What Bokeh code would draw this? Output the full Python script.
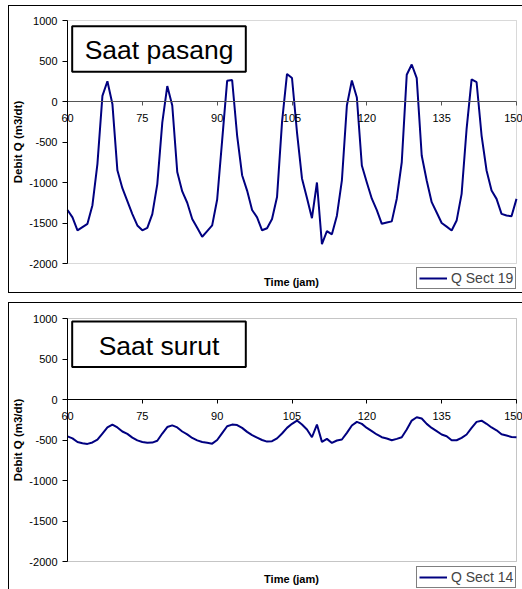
from bokeh.plotting import figure
from bokeh.layouts import column
from bokeh.models import (Legend, LegendItem, LinearAxis, FixedTicker, BoxAnnotation,
                          Label, Range1d)
from bokeh.embed import file_html
from bokeh.resources import INLINE

# ---------------- data ----------------
hours = list(range(60, 151))

q_sect19 = [
    -1340, -1430, -1590, -1550, -1510, -1280, -770, 70, 250, -30,      # 60-69
    -850, -1070, -1230, -1390, -1530, -1590, -1560, -1390, -1020, -260,  # 70-79
    190, -50, -870, -1110, -1250, -1450, -1560, -1670, -1600, -1530,   # 80-89
    -1210, -480, 255, 265, -420, -910, -1100, -1340, -1430, -1590,     # 90-99
    -1565, -1450, -1180, -255, 340, 290, -380, -950, -1190, -1440,     # 100-109
    -1000, -1760, -1600, -1640, -1410, -975, -50, 260, 50, -790,       # 110-119
    -1000, -1200, -1340, -1510, -1495, -1480, -1200, -750, 330, 457,   # 120-129
    288, -667, -976, -1243, -1370, -1500, -1545, -1593, -1470, -1140,  # 130-139
    -337, 272, 238, -420, -852, -1099, -1202, -1387, -1408, -1416,     # 140-149
    -1202,                                                             # 150
]

q_sect14 = [
    -455, -480, -525, -540, -548, -530, -495, -420, -345, -310,        # 60-69
    -345, -395, -425, -470, -505, -525, -535, -532, -510, -420,        # 70-79
    -340, -320, -345, -395, -430, -475, -505, -525, -535, -545,        # 80-89
    -500, -415, -330, -310, -315, -350, -400, -440, -470, -500,        # 90-99
    -520, -515, -480, -420, -350, -300, -260, -309, -371, -466,        # 100-109
    -309, -523, -486, -536, -506, -494, -412, -321, -276, -301,        # 110-119
    -351, -391, -432, -466, -482, -503, -486, -466, -371, -260,        # 120-129
    -219, -235, -301, -351, -391, -432, -453, -503, -503, -474,        # 130-139
    -432, -351, -276, -262, -300, -345, -380, -430, -445, -463,        # 140-149
    -466,                                                              # 150
]

x_ticks = [60, 75, 90, 105, 120, 135, 150]
x_tick_labels = ["60", "75", "90", "105", "120", "135", "150"]
y_ticks = [-2000, -1500, -1000, -500, 0, 500, 1000]
y_tick_labels = ["-2000", "-1500", "-1000", "-500", "0", "500", "1000"]

x_title = "Time (jam)"
y_title = "Debit Q (m3/dt)"

X_MIN, X_MAX = 60, 150
Y_MIN, Y_MAX = -2000, 1000

FONT = "Liberation Sans"
LINE_COLOR = "#000080"

FIG_W = 522
DATA_PX_H = 243.0                    # pixel height of the -2000..1000 band
DATA_PX_W = 449.0                    # pixel width of the 60..150 band
LEFT_PX = 67                         # pixels left of the 60 line
UNIT_PER_PX_Y = (Y_MAX - Y_MIN) / DATA_PX_H
UNIT_PER_PX_X = (X_MAX - X_MIN) / DATA_PX_W


def make_chart(series, series_label, box_text, height, top_px,
               box_top, box_bottom, text_y, title_y, zero_color, frame_color,
               legend_dy, shadow):
    # the frame covers the whole figure; both axes are drawn at fixed places
    below_px = height - top_px - DATA_PX_H
    y_low = Y_MIN - below_px * UNIT_PER_PX_Y
    y_high = Y_MAX + top_px * UNIT_PER_PX_Y
    x_low = X_MIN - LEFT_PX * UNIT_PER_PX_X
    x_high = X_MIN + (FIG_W - LEFT_PX) * UNIT_PER_PX_X
    p = figure(width=FIG_W, height=height,
               x_range=Range1d(x_low, x_high), y_range=Range1d(y_low, y_high),
               x_axis_type=None, y_axis_type=None,
               output_backend="svg", toolbar_location=None,
               min_border_left=0, min_border_right=0,
               min_border_top=0, min_border_bottom=0,
               border_fill_color=None, background_fill_color=None,
               outline_line_color=None)
    p.styles = {"box-shadow": shadow}

    # x axis drawn across the zero line
    xa = LinearAxis(ticker=FixedTicker(ticks=x_ticks), fixed_location=0,
                    bounds=(X_MIN, X_MAX),
                    major_label_overrides=dict(zip(x_ticks, x_tick_labels)),
                    major_tick_out=4, major_tick_in=0, minor_tick_line_color=None,
                    major_label_standoff=8,
                    axis_line_color=zero_color, major_tick_line_color=zero_color,
                    major_label_text_font=FONT, major_label_text_font_size="11px",
                    major_label_text_color="black")
    p.add_layout(xa, "below")

    ya = LinearAxis(ticker=FixedTicker(ticks=y_ticks), fixed_location=X_MIN,
                    bounds=(Y_MIN, Y_MAX),
                    major_label_overrides=dict(zip(y_ticks, y_tick_labels)),
                    major_tick_out=5, major_tick_in=0, minor_tick_line_color=None,
                    major_label_standoff=5, axis_line_color="black",
                    major_tick_line_color="black",
                    major_label_text_font=FONT, major_label_text_font_size="11px",
                    major_label_text_color="black",
                    axis_label=y_title, axis_label_standoff=2,
                    axis_label_text_font=FONT, axis_label_text_font_size="11.5px",
                    axis_label_text_font_style="bold", axis_label_text_color="black")
    p.add_layout(ya, "left")

    # plot-area border
    p.add_layout(BoxAnnotation(left=X_MIN, right=X_MAX, top=Y_MAX, bottom=Y_MIN,
                               fill_color=None, line_color=frame_color,
                               line_width=1, level="underlay"))

    r = p.line(hours, series, line_color=LINE_COLOR, line_width=2)

    box = BoxAnnotation(left=60.94, right=95.74, top=box_top, bottom=box_bottom,
                        fill_color="white", fill_alpha=1.0,
                        line_color="black", line_width=2, line_alpha=1.0)
    p.add_layout(box)
    p.add_layout(Label(x=78.35, y=text_y, text=box_text, text_align="center",
                       text_baseline="middle", text_font=FONT,
                       text_font_size="26.5px", text_color="black"))

    # x-axis title under the plot area
    p.add_layout(Label(x=104.9, y=title_y, text=x_title, text_align="center",
                       text_baseline="middle", text_font=FONT,
                       text_font_size="11px", text_font_style="bold",
                       text_color="black"))

    legend = Legend(items=[LegendItem(label=series_label, renderers=[r])],
                    location=(LEFT_PX + 349, legend_dy), orientation="vertical",
                    border_line_color="black", border_line_width=1,
                    background_fill_color="white", background_fill_alpha=1.0,
                    label_text_font=FONT, label_text_font_size="14px",
                    padding=2, margin=0, spacing=0, glyph_width=28,
                    glyph_height=14, label_standoff=4, label_height=14)
    p.add_layout(legend, "center")
    return p


p1 = make_chart(q_sect19, "Q Sect 19", "Saat pasang", height=293, top_px=20,
                box_top=930, box_bottom=367, text_y=634,
                title_y=-2230, zero_color="#555555", frame_color="#808080",
                legend_dy=4,
                shadow=("inset 8px 0 0 #fff, inset 0 5px 0 #fff, "
                        "inset 0 -1px 0 #000, inset 9px 0 0 #000, inset 0 6px 0 #000"))
p2 = make_chart(q_sect14, "Q Sect 14", "Saat surut", height=296, top_px=25,
                box_top=963, box_bottom=400, text_y=655,
                title_y=-2222, zero_color="#000000", frame_color="#404040",
                legend_dy=1,
                shadow=("inset 8px 0 0 #fff, inset 0 9px 0 #fff, "
                        "inset 9px 0 0 #000, inset 0 10px 0 #000"))

layout = column(p1, p2, spacing=0)

open("out.html", "w").write(file_html(layout, INLINE))
